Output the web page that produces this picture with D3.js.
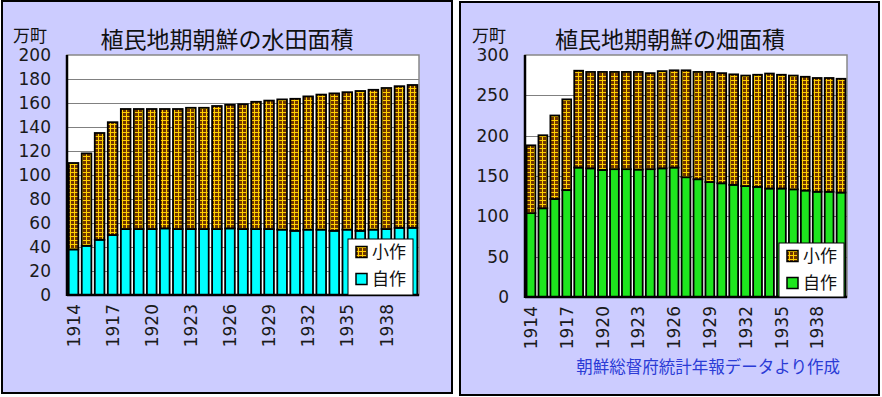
<!DOCTYPE html>
<html>
<head>
<meta charset="utf-8">
<script src="https://cdn.jsdelivr.net/npm/d3@7"></script>
<style>
  body { margin: 0; background: #fff; }
  svg { display: block; }
</style>
</head>
<body>
<div id="chart"></div>
<script>
// categories
const years = ['1914', '1915', '1916', '1917', '1918', '1919', '1920', '1921', '1922',
  '1923', '1924', '1925', '1926', '1927', '1928', '1929', '1930', '1931', '1932',
  '1933', '1934', '1935', '1936', '1937', '1938', '1939', '1940']
const tickYears = ['1914', '1917', '1920', '1923', '1926', '1929', '1932', '1935', '1938']

// 水田 (万町)
const paddyOwn = [38, 41, 46, 50, 55, 55, 55, 55.5, 55, 55, 55, 55, 55.5, 55,
  55, 55, 54.5, 53.5, 54.5, 54.5, 53.5, 54.5, 53.5, 54.5, 55, 56, 56]
const paddyTenant = [72, 77, 89, 94, 100, 100, 100, 99.5, 100, 101, 101, 102.5, 103, 104,
  106, 107, 108.5, 110, 111, 112.5, 114.5, 114.5, 116.5, 116.5, 117.5, 118, 119]

// 畑 (万町)
const fieldOwn = [104, 110, 121.5, 132.5, 160.5, 159.5, 157.5, 158.5, 158.5, 158, 158.5, 159.5, 160.5, 148.5,
  146, 142.5, 141, 139, 137.5, 136.5, 134.5, 134.5, 133.5, 132, 130.5, 130.5, 129.5]
const fieldTenant = [84, 90.5, 103.5, 112.5, 120, 119.5, 121.5, 120.5, 120.5, 121, 119, 120.5, 120.5, 132.5,
  133, 136.5, 136.5, 137, 137, 139, 142.5, 141, 141, 141, 141, 141, 141]

const paddyTicks = [0, 20, 40, 60, 80, 100, 120, 140, 160, 180, 200]
const fieldTicks = [0, 50, 100, 150, 200, 250, 300]

const seriesNames = { tenant: '小作', own: '自作' }

const W = 882, H = 397
const svg = d3.select('#chart').append('svg')
  .attr('width', W)
  .attr('height', H)

svg.append('rect').attr('width', W).attr('height', H).attr('fill', '#fff')

// tenant pattern: dark brown with yellow ladder lines
const defs = svg.append('defs')
const pat = defs.append('pattern')
  .attr('id', 'tenantPat')
  .attr('patternUnits', 'userSpaceOnUse')
  .attr('width', 4)
  .attr('height', 4)
pat.append('rect').attr('width', 4).attr('height', 4).attr('fill', '#6e3500')
pat.append('path').attr('d', 'M0,0.5H4').attr('stroke', '#ffd000').attr('stroke-width', 1)
pat.append('path').attr('d', 'M2.5,0V4').attr('stroke', '#ffd000').attr('stroke-width', 1)

function drawPanel(cfg) {
  const g = svg.append('g')

  // panel background
  g.append('rect')
    .attr('x', cfg.box[0]).attr('y', cfg.box[1])
    .attr('width', cfg.box[2]).attr('height', cfg.box[3])
    .attr('fill', '#ccccff')
    .attr('stroke', '#000')
    .attr('stroke-width', 2)

  const x = d3.scaleBand()
    .domain(years)
    .range([cfg.left, cfg.right])
    .paddingInner(0.26)
    .paddingOuter(0.13)

  const y = d3.scaleLinear()
    .domain([0, cfg.ticks[cfg.ticks.length - 1]])
    .range([cfg.bottom, cfg.top])

  // plot area
  g.append('rect')
    .attr('x', cfg.left).attr('y', cfg.top)
    .attr('width', cfg.right - cfg.left).attr('height', cfg.bottom - cfg.top)
    .attr('fill', '#fff')
    .attr('stroke', '#888')
    .attr('stroke-width', 1.5)

  // grid lines
  g.append('g')
    .selectAll('line')
    .data(cfg.ticks.slice(1, -1))
    .join('line')
    .attr('x1', cfg.left).attr('x2', cfg.right)
    .attr('y1', d => Math.round(y(d)) + 0.5).attr('y2', d => Math.round(y(d)) + 0.5)
    .attr('stroke', '#808080')

  // stacked bars
  const table = years.map((yr, i) => ({ year: yr, own: cfg.own[i], tenant: cfg.tenant[i] }))
  const stacked = d3.stack().keys(['own', 'tenant'])(table)

  g.append('g')
    .selectAll('g')
    .data(stacked)
    .join('g')
    .attr('fill', d => d.key === 'own' ? cfg.ownColor : 'url(#tenantPat)')
    .selectAll('rect')
    .data(d => d)
    .join('rect')
    .attr('x', d => x(d.data.year))
    .attr('y', d => y(d[1]))
    .attr('width', x.bandwidth())
    .attr('height', d => y(d[0]) - y(d[1]))
    .attr('stroke', '#000')
    .attr('stroke-width', 1.8)

  // y axis
  const yAxis = g.append('g')
    .attr('transform', `translate(${cfg.left},0)`)
    .call(d3.axisLeft(y).tickValues(cfg.ticks).tickSize(0).tickPadding(16))
  yAxis.select('.domain').remove()
  yAxis.selectAll('text')
    .attr('font-family', 'DejaVu Sans, Verdana, sans-serif')
    .attr('font-size', 17)
    .attr('fill', '#1a1a1a')

  // x axis labels
  const xAxis = g.append('g')
    .attr('transform', `translate(0,${cfg.bottom})`)
    .call(d3.axisBottom(x).tickValues(tickYears).tickSize(0))
  xAxis.select('.domain').remove()
  xAxis.selectAll('text')
    .attr('font-family', 'DejaVu Sans, Verdana, sans-serif')
    .attr('font-size', 17)
    .attr('fill', '#1a1a1a')
    .attr('text-anchor', 'end')
    .attr('transform', 'rotate(-90)')
    .attr('x', -9)
    .attr('y', 0)
    .attr('dy', '0.36em')

  // axis lines
  g.append('line')
    .attr('x1', cfg.left).attr('x2', cfg.left)
    .attr('y1', cfg.top).attr('y2', cfg.bottom + 1)
    .attr('stroke', '#000').attr('stroke-width', 2.5)
  g.append('line')
    .attr('x1', cfg.left).attr('x2', cfg.right)
    .attr('y1', cfg.bottom).attr('y2', cfg.bottom)
    .attr('stroke', '#000').attr('stroke-width', 2.5)

  // title and unit
  g.append('text')
    .attr('x', cfg.titleX).attr('y', 48)
    .attr('text-anchor', 'middle')
    .attr('font-family', 'Noto Sans CJK JP, sans-serif')
    .attr('font-size', 23)
    .attr('fill', '#111')
    .text(cfg.title)
  g.append('text')
    .attr('x', cfg.unitX).attr('y', 42)
    .attr('font-family', 'Noto Sans CJK JP, sans-serif')
    .attr('font-size', 17)
    .attr('fill', '#111')
    .text('万町')

  // legend
  const lg = g.append('g').attr('transform', `translate(${cfg.legend[0]},${cfg.legend[1]})`)
  lg.append('rect')
    .attr('width', cfg.legend[2]).attr('height', cfg.legend[3])
    .attr('fill', '#fff').attr('stroke', '#000').attr('stroke-width', 1)
  const items = [
    { key: 'tenant', fill: 'url(#tenantPat)', cy: 13 },
    { key: 'own', fill: cfg.ownColor, cy: 40 }
  ]
  const item = lg.selectAll('g.item')
    .data(items)
    .join('g')
    .attr('class', 'item')
  item.append('rect')
    .attr('x', 8).attr('y', d => d.cy - 5.5)
    .attr('width', 11).attr('height', 11)
    .attr('fill', d => d.fill)
    .attr('stroke', '#000').attr('stroke-width', 1.5)
  item.append('text')
    .attr('x', 24).attr('y', d => d.cy)
    .attr('dy', '0.36em')
    .attr('font-family', 'Noto Sans CJK JP, sans-serif')
    .attr('font-size', 17)
    .attr('fill', '#111')
    .text(d => seriesNames[d.key])

  return g
}

drawPanel({
  box: [2, 1, 450, 392],
  left: 67, right: 419, top: 55, bottom: 295,
  ticks: paddyTicks,
  own: paddyOwn, tenant: paddyTenant,
  ownColor: '#00ffff',
  title: '植民地期朝鮮の水田面積',
  titleX: 227, unitX: 13,
  legend: [348, 239, 65, 56]
})

const right = drawPanel({
  box: [460, 2, 419, 393],
  left: 525, right: 847, top: 55, bottom: 297,
  ticks: fieldTicks,
  own: fieldOwn, tenant: fieldTenant,
  ownColor: '#1ee61e',
  title: '植民地期朝鮮の畑面積',
  titleX: 670, unitX: 472,
  legend: [779, 243, 65, 54]
})

right.append('text')
  .attr('x', 840).attr('y', 373)
  .attr('text-anchor', 'end')
  .attr('font-family', 'Noto Sans CJK JP, sans-serif')
  .attr('font-size', 16.5)
  .attr('fill', '#2b3bd6')
  .text('朝鮮総督府統計年報データより作成')
</script>
</body>
</html>
